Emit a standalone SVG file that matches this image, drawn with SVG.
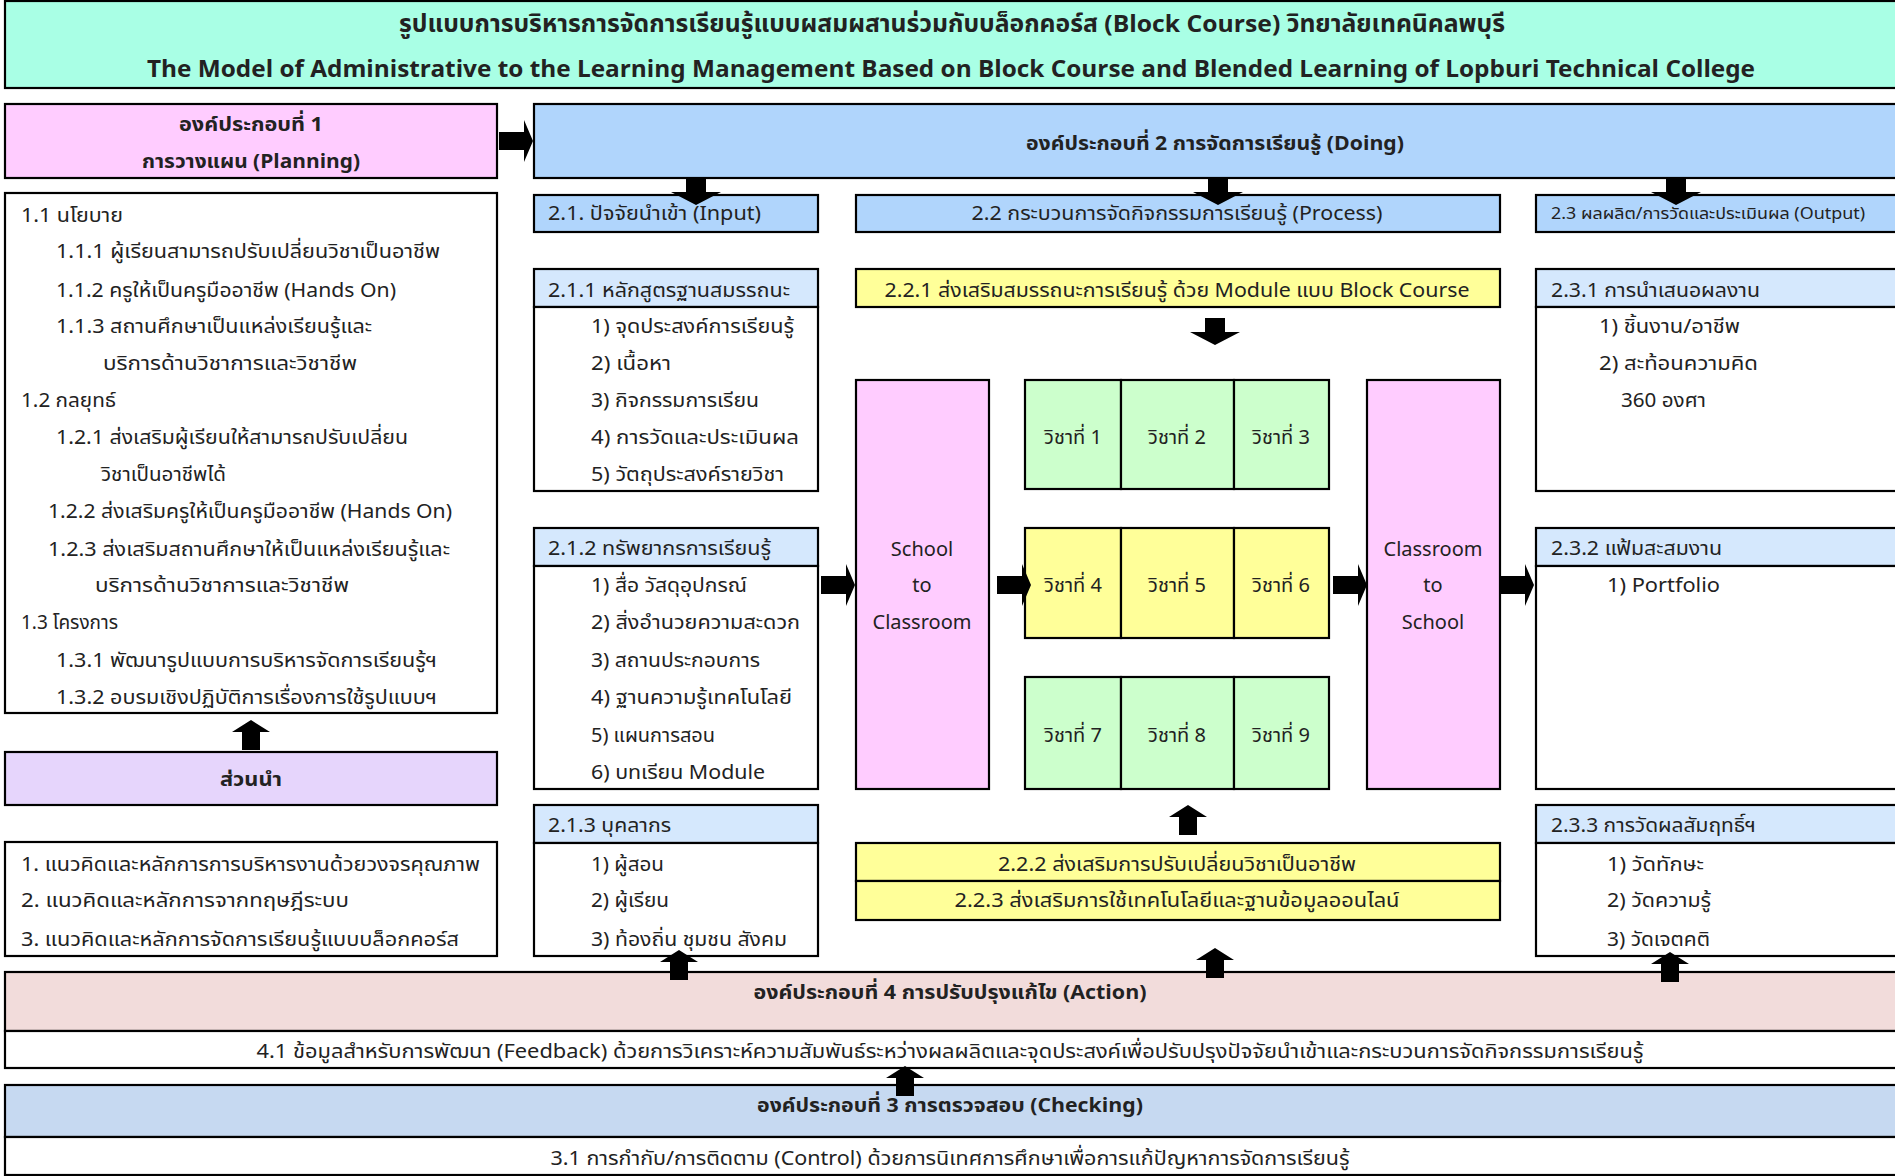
<svg xmlns="http://www.w3.org/2000/svg" width="1895" height="1176" viewBox="0 0 1895 1176">
<style>
rect{stroke:#000;stroke-width:2.2}
text{font-family:"Noto Sans Thai","Noto Sans","DejaVu Sans",sans-serif;font-size:20px;fill:#222}
.b{font-weight:bold}
.m{text-anchor:middle}
.s{font-size:16px}
.ti{font-size:24px;font-weight:bold}
.pk{fill:#FFCCFF}
.bl{fill:#B0D5FC}
.lb{fill:#D5E8FD}
.ye{fill:#FFFF99}
.gr{fill:#CCFFCC}
.wh{fill:#FFFFFF}
.arr{fill:#000;stroke:none}
</style>
<defs>
<polygon id="aR" points="0,-9 25,-9 25,-21 34,0 25,21 25,9 0,9"/>
<polygon id="aD" points="-10,0 10,0 10,14 25,14 0,27 -25,14 -10,14"/>
<polygon id="aU" points="-9,0 9,0 9,-18 19,-18 0,-30 -19,-18 -9,-18"/>
</defs>

<g id="title">
<rect x="5" y="1" width="1900" height="87" fill="#A9FFE5"/>
<text class="ti m" x="952" y="32" textLength="1106" lengthAdjust="spacingAndGlyphs">รูปแบบการบริหารการจัดการเรียนรู้แบบผสมผสานร่วมกับบล็อกคอร์ส (Block Course) วิทยาลัยเทคนิคลพบุรี</text>
<text class="ti m" x="951" y="77" textLength="1608" lengthAdjust="spacingAndGlyphs">The Model of Administrative to the Learning Management Based on Block Course and Blended Learning of Lopburi Technical College</text>
</g>

<g id="planning">
<rect class="pk" x="5" y="104" width="492" height="74"/>
<text class="b m" x="251" y="131" textLength="144" lengthAdjust="spacingAndGlyphs">องค์ประกอบที่ 1</text>
<text class="b m" x="251" y="168" textLength="218" lengthAdjust="spacingAndGlyphs">การวางแผน (Planning)</text>
</g>

<g id="doing">
<rect class="bl" x="534" y="104" width="1371" height="74"/>
<text class="b m" x="1215" y="150" textLength="378" lengthAdjust="spacingAndGlyphs">องค์ประกอบที่ 2 การจัดการเรียนรู้ (Doing)</text>
</g>

<g id="policy">
<rect class="wh" x="5" y="193" width="492" height="520"/>
<text x="21" y="222" textLength="102" lengthAdjust="spacingAndGlyphs">1.1 นโยบาย</text>
<text x="56" y="258" textLength="384" lengthAdjust="spacingAndGlyphs">1.1.1 ผู้เรียนสามารถปรับเปลี่ยนวิชาเป็นอาชีพ</text>
<text x="56" y="297" textLength="340" lengthAdjust="spacingAndGlyphs">1.1.2 ครูให้เป็นครูมืออาชีพ (Hands On)</text>
<text x="56" y="333" textLength="316" lengthAdjust="spacingAndGlyphs">1.1.3 สถานศึกษาเป็นแหล่งเรียนรู้และ</text>
<text x="103" y="370" textLength="254" lengthAdjust="spacingAndGlyphs">บริการด้านวิชาการและวิชาชีพ</text>
<text x="21" y="407" textLength="95" lengthAdjust="spacingAndGlyphs">1.2 กลยุทธ์</text>
<text x="56" y="444" textLength="352" lengthAdjust="spacingAndGlyphs">1.2.1 ส่งเสริมผู้เรียนให้สามารถปรับเปลี่ยน</text>
<text x="101" y="481" textLength="125" lengthAdjust="spacingAndGlyphs">วิชาเป็นอาชีพได้</text>
<text x="48" y="518" textLength="404" lengthAdjust="spacingAndGlyphs">1.2.2 ส่งเสริมครูให้เป็นครูมืออาชีพ (Hands On)</text>
<text x="48" y="556" textLength="402" lengthAdjust="spacingAndGlyphs">1.2.3 ส่งเสริมสถานศึกษาให้เป็นแหล่งเรียนรู้และ</text>
<text x="95" y="592" textLength="254" lengthAdjust="spacingAndGlyphs">บริการด้านวิชาการและวิชาชีพ</text>
<text x="21" y="629" textLength="97" lengthAdjust="spacingAndGlyphs">1.3 โครงการ</text>
<text x="56" y="667" textLength="381" lengthAdjust="spacingAndGlyphs">1.3.1 พัฒนารูปแบบการบริหารจัดการเรียนรู้ฯ</text>
<text x="56" y="704" textLength="381" lengthAdjust="spacingAndGlyphs">1.3.2 อบรมเชิงปฏิบัติการเรื่องการใช้รูปแบบฯ</text>
</g>

<g id="intro">
<rect x="5" y="752" width="492" height="53" fill="#E6D5FC"/>
<text class="b m" x="251" y="786" textLength="62" lengthAdjust="spacingAndGlyphs">ส่วนนำ</text>
</g>

<g id="theory">
<rect class="wh" x="5" y="842" width="492" height="114"/>
<text x="21" y="871" textLength="459" lengthAdjust="spacingAndGlyphs">1. แนวคิดและหลักการการบริหารงานด้วยวงจรคุณภาพ</text>
<text x="21" y="907" textLength="328" lengthAdjust="spacingAndGlyphs">2. แนวคิดและหลักการจากทฤษฎีระบบ</text>
<text x="21" y="946" textLength="438" lengthAdjust="spacingAndGlyphs">3. แนวคิดและหลักการจัดการเรียนรู้แบบบล็อกคอร์ส</text>
</g>

<g id="input">
<rect class="bl" x="534" y="195" width="284" height="37"/>
<text x="548" y="220" textLength="213" lengthAdjust="spacingAndGlyphs">2.1. ปัจจัยนำเข้า (Input)</text>
</g>

<g id="process">
<rect class="bl" x="856" y="195" width="644" height="37"/>
<text class="m" x="1177" y="220" textLength="411" lengthAdjust="spacingAndGlyphs">2.2 กระบวนการจัดกิจกรรมการเรียนรู้ (Process)</text>
</g>

<g id="output">
<rect class="bl" x="1536" y="195" width="369" height="37"/>
<text class="s" x="1551" y="219" textLength="314" lengthAdjust="spacingAndGlyphs">2.3 ผลผลิต/การวัดและประเมินผล (Output)</text>
</g>

<g id="curriculum">
<rect class="lb" x="534" y="269" width="284" height="38"/>
<rect class="wh" x="534" y="307" width="284" height="184"/>
<text x="548" y="297" textLength="242" lengthAdjust="spacingAndGlyphs">2.1.1 หลักสูตรฐานสมรรถนะ</text>
<text x="591" y="333" textLength="203" lengthAdjust="spacingAndGlyphs">1) จุดประสงค์การเรียนรู้</text>
<text x="591" y="370" textLength="80" lengthAdjust="spacingAndGlyphs">2) เนื้อหา</text>
<text x="591" y="407" textLength="168" lengthAdjust="spacingAndGlyphs">3) กิจกรรมการเรียน</text>
<text x="591" y="444" textLength="208" lengthAdjust="spacingAndGlyphs">4) การวัดและประเมินผล</text>
<text x="591" y="481" textLength="193" lengthAdjust="spacingAndGlyphs">5) วัตถุประสงค์รายวิชา</text>
</g>

<g id="resources">
<rect class="lb" x="534" y="528" width="284" height="38"/>
<rect class="wh" x="534" y="566" width="284" height="223"/>
<text x="548" y="555" textLength="223" lengthAdjust="spacingAndGlyphs">2.1.2 ทรัพยากรการเรียนรู้</text>
<text x="591" y="592" textLength="156" lengthAdjust="spacingAndGlyphs">1) สื่อ วัสดุอุปกรณ์</text>
<text x="591" y="629" textLength="209" lengthAdjust="spacingAndGlyphs">2) สิ่งอำนวยความสะดวก</text>
<text x="591" y="667" textLength="169" lengthAdjust="spacingAndGlyphs">3) สถานประกอบการ</text>
<text x="591" y="704" textLength="201" lengthAdjust="spacingAndGlyphs">4) ฐานความรู้เทคโนโลยี</text>
<text x="591" y="742" textLength="124" lengthAdjust="spacingAndGlyphs">5) แผนการสอน</text>
<text x="591" y="779" textLength="174" lengthAdjust="spacingAndGlyphs">6) บทเรียน Module</text>
</g>

<g id="personnel">
<rect class="lb" x="534" y="805" width="284" height="38"/>
<rect class="wh" x="534" y="843" width="284" height="113"/>
<text x="548" y="832" textLength="123" lengthAdjust="spacingAndGlyphs">2.1.3 บุคลากร</text>
<text x="591" y="871" textLength="73" lengthAdjust="spacingAndGlyphs">1) ผู้สอน</text>
<text x="591" y="907" textLength="78" lengthAdjust="spacingAndGlyphs">2) ผู้เรียน</text>
<text x="591" y="946" textLength="196" lengthAdjust="spacingAndGlyphs">3) ท้องถิ่น ชุมชน สังคม</text>
</g>

<g id="competency">
<rect class="ye" x="856" y="269" width="644" height="38"/>
<text class="m" x="1177" y="297" textLength="585" lengthAdjust="spacingAndGlyphs">2.2.1 ส่งเสริมสมรรถนะการเรียนรู้ ด้วย Module แบบ Block Course</text>
</g>

<g id="school-to-classroom">
<rect class="pk" x="856" y="380" width="133" height="409"/>
<text class="m" x="922" y="556">School</text>
<text class="m" x="922" y="592">to</text>
<text class="m" x="922" y="629">Classroom</text>
</g>

<g id="subjects-row1">
<rect class="gr" x="1025" y="380" width="96" height="109"/>
<rect class="gr" x="1121" y="380" width="113" height="109"/>
<rect class="gr" x="1234" y="380" width="95" height="109"/>
<text class="m" x="1073" y="444">วิชาที่ 1</text>
<text class="m" x="1177" y="444">วิชาที่ 2</text>
<text class="m" x="1281" y="444">วิชาที่ 3</text>
</g>
<g id="subjects-row2">
<rect class="ye" x="1025" y="528" width="96" height="110"/>
<rect class="ye" x="1121" y="528" width="113" height="110"/>
<rect class="ye" x="1234" y="528" width="95" height="110"/>
<text class="m" x="1073" y="592">วิชาที่ 4</text>
<text class="m" x="1177" y="592">วิชาที่ 5</text>
<text class="m" x="1281" y="592">วิชาที่ 6</text>
</g>
<g id="subjects-row3">
<rect class="gr" x="1025" y="677" width="96" height="112"/>
<rect class="gr" x="1121" y="677" width="113" height="112"/>
<rect class="gr" x="1234" y="677" width="95" height="112"/>
<text class="m" x="1073" y="742">วิชาที่ 7</text>
<text class="m" x="1177" y="742">วิชาที่ 8</text>
<text class="m" x="1281" y="742">วิชาที่ 9</text>
</g>

<g id="classroom-to-school">
<rect class="pk" x="1367" y="380" width="133" height="409"/>
<text class="m" x="1433" y="556">Classroom</text>
<text class="m" x="1433" y="592">to</text>
<text class="m" x="1433" y="629">School</text>
</g>

<g id="career">
<rect class="ye" x="856" y="843" width="644" height="38"/>
<text class="m" x="1177" y="871" textLength="358" lengthAdjust="spacingAndGlyphs">2.2.2 ส่งเสริมการปรับเปลี่ยนวิชาเป็นอาชีพ</text>
</g>
<g id="technology">
<rect class="ye" x="856" y="881" width="644" height="39"/>
<text class="m" x="1177" y="907" textLength="445" lengthAdjust="spacingAndGlyphs">2.2.3 ส่งเสริมการใช้เทคโนโลยีและฐานข้อมูลออนไลน์</text>
</g>

<g id="presentation">
<rect class="lb" x="1536" y="269" width="369" height="38"/>
<rect class="wh" x="1536" y="307" width="369" height="184"/>
<text x="1551" y="297" textLength="209" lengthAdjust="spacingAndGlyphs">2.3.1 การนำเสนอผลงาน</text>
<text x="1599" y="333" textLength="141" lengthAdjust="spacingAndGlyphs">1) ชิ้นงาน/อาชีพ</text>
<text x="1599" y="370" textLength="159" lengthAdjust="spacingAndGlyphs">2) สะท้อนความคิด</text>
<text x="1621" y="407" textLength="85" lengthAdjust="spacingAndGlyphs">360 องศา</text>
</g>

<g id="portfolio">
<rect class="lb" x="1536" y="528" width="369" height="38"/>
<rect class="wh" x="1536" y="566" width="369" height="223"/>
<text x="1551" y="555" textLength="171" lengthAdjust="spacingAndGlyphs">2.3.2 แฟ้มสะสมงาน</text>
<text x="1607" y="592" textLength="113" lengthAdjust="spacingAndGlyphs">1)  Portfolio</text>
</g>

<g id="achievement">
<rect class="lb" x="1536" y="805" width="369" height="38"/>
<rect class="wh" x="1536" y="843" width="369" height="113"/>
<text x="1551" y="832" textLength="205" lengthAdjust="spacingAndGlyphs">2.3.3 การวัดผลสัมฤทธิ์ฯ</text>
<text x="1607" y="871" textLength="97" lengthAdjust="spacingAndGlyphs">1) วัดทักษะ</text>
<text x="1607" y="907" textLength="104" lengthAdjust="spacingAndGlyphs">2) วัดความรู้</text>
<text x="1607" y="946" textLength="103" lengthAdjust="spacingAndGlyphs">3) วัดเจตคติ</text>
</g>

<g id="action">
<rect x="5" y="972" width="1900" height="59" fill="#F2DCDB"/>
<text class="b m" x="950" y="999" textLength="393" lengthAdjust="spacingAndGlyphs">องค์ประกอบที่ 4 การปรับปรุงแก้ไข (Action)</text>
<rect class="wh" x="5" y="1031" width="1900" height="37"/>
<text class="m" x="950" y="1058" textLength="1387" lengthAdjust="spacingAndGlyphs">4.1 ข้อมูลสำหรับการพัฒนา (Feedback) ด้วยการวิเคราะห์ความสัมพันธ์ระหว่างผลผลิตและจุดประสงค์เพื่อปรับปรุงปัจจัยนำเข้าและกระบวนการจัดกิจกรรมการเรียนรู้</text>
</g>

<g id="checking">
<rect x="5" y="1085" width="1900" height="52" fill="#C6D9F1"/>
<text class="b m" x="950" y="1112" textLength="386" lengthAdjust="spacingAndGlyphs">องค์ประกอบที่ 3 การตรวจสอบ (Checking)</text>
<rect class="wh" x="5" y="1137" width="1900" height="38"/>
<text class="m" x="950" y="1165" textLength="799" lengthAdjust="spacingAndGlyphs">3.1 การกำกับ/การติดตาม (Control) ด้วยการนิเทศการศึกษาเพื่อการแก้ปัญหาการจัดการเรียนรู้</text>
</g>

<g id="connectors" class="arr">
<use href="#aR" x="499" y="141"/>
<use href="#aD" x="696" y="178"/>
<use href="#aD" x="1218" y="178"/>
<use href="#aD" x="1676" y="178"/>
<use href="#aD" x="1215" y="318"/>
<use href="#aR" x="821" y="585"/>
<use href="#aR" x="997" y="585"/>
<use href="#aR" x="1333" y="585"/>
<use href="#aR" x="1500" y="585"/>
<use href="#aU" x="251" y="750"/>
<use href="#aU" x="1188" y="835"/>
<use href="#aU" x="679" y="980"/>
<use href="#aU" x="1215" y="978"/>
<use href="#aU" x="1670" y="982"/>
<use href="#aU" x="905" y="1096"/>
</g>
</svg>
